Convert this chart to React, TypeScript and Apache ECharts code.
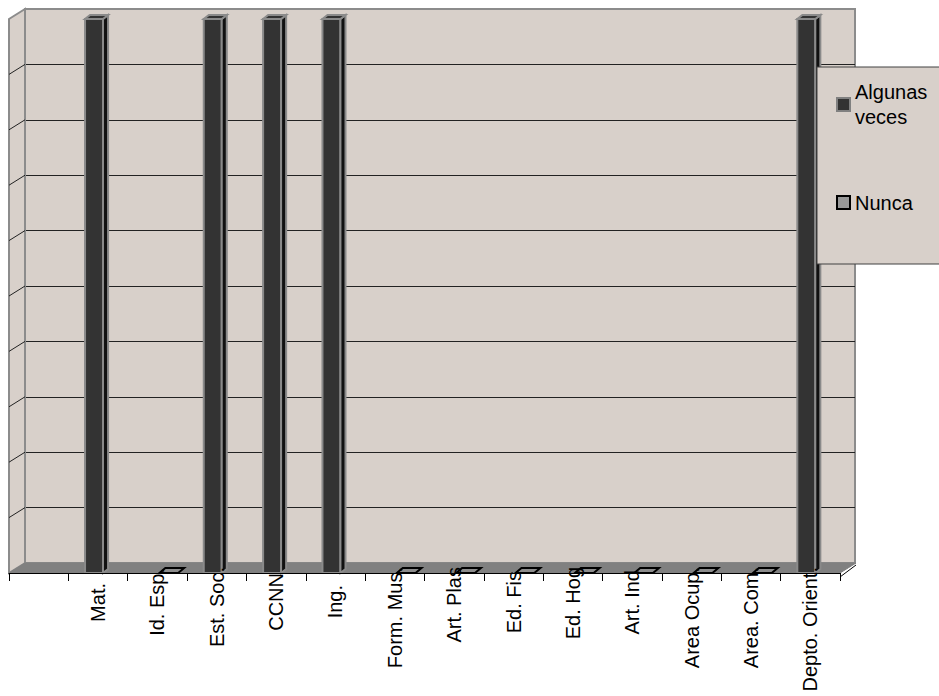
import React, { useEffect, useRef } from "react";
import * as echarts from "echarts";

// ---- data ----
const categories = ["", "Mat.", "Id. Esp.", "Est. Soc.", "CCNN", "Ing.", "Form. Mus.", "Art. Plas", "Ed. Fis", "Ed. Hog", "Art. Ind", "Area Ocup.", "Area. Com.", "Depto. Orient."];
const algunasVeces: (number | null)[] = [null, 100, null, 100, 100, 100, null, null, null, null, null, null, null, 100];
const nunca: (number | null)[] = [null, null, 0, null, null, null, 0, 0, 0, 0, 0, 0, 0, null];
const seriesNames = ["Algunas veces", "Nunca"];
const valueMax = 100;
const valueStep = 10;

// ---- style ----
const FONT = "'Liberation Sans', Arial, sans-serif";
const WALL = "#d8d0ca";
const FLOOR = "#808080";
const EDGE = "#8c8c8c";
const DX = 16;
const DY = 10;

function measure(text: string, size: number): number {
  const ctx = document.createElement("canvas").getContext("2d");
  if (!ctx) return text.length * size * 0.5;
  ctx.font = `${size}px ${FONT}`;
  return ctx.measureText(text).width;
}

function toPoints(values: (number | null)[]) {
  const out: number[][] = [];
  values.forEach((v, i) => {
    if (v !== null && v !== undefined) out.push([i, v]);
  });
  return out;
}

function bar3d(fill: string, side: string, stroke: string, lw: number, x0f: number, x1f: number, dxf: number, dy: number) {
  return (params: any, api: any) => {
    const v = api.value(1);
    if (v === null || v === undefined || isNaN(v)) return null;
    const i = api.value(0);
    const top = api.coord([i, v]);
    const base = api.coord([i, 0]);
    const band = api.size([1, 0])[0];
    const xl = top[0] + band * x0f;
    const xr = top[0] + band * x1f;
    const dx = band * dxf;
    const yt = top[1];
    const yb = base[1];
    const children: any[] = [];
    if (yb - yt > 0.5) {
      children.push({ type: "rect", shape: { x: xl, y: yt, width: xr - xl, height: yb - yt }, style: { fill, stroke, lineWidth: lw } });
      children.push({ type: "polygon", shape: { points: [[xr, yt], [xr + dx, yt - dy], [xr + dx, yb - dy], [xr, yb]] }, style: { fill: side, stroke, lineWidth: lw } });
    }
    children.push({ type: "polygon", shape: { points: [[xl, yt], [xr, yt], [xr + dx, yt - dy], [xl + dx, yt - dy]] }, style: { fill, stroke, lineWidth: lw } });
    return { type: "group", children };
  };
}

function frame(params: any, api: any) {
  const cs = params.coordSys;
  const x = cs.x, y = cs.y, w = cs.width, h = cs.height;
  const b = y + h;
  const children: any[] = [];
  children.push({ type: "polygon", shape: { points: [[x, y], [x + DX, y - DY], [x + DX, b - DY], [x, b]] }, style: { fill: WALL, stroke: EDGE, lineWidth: 2 } });
  for (let v = valueStep; v < valueMax; v += valueStep) {
    const yv = api.coord([0, v])[1];
    children.push({ type: "line", shape: { x1: x, y1: yv, x2: x + DX, y2: yv - DY }, style: { stroke: "#222", lineWidth: 1 } });
  }
  children.push({ type: "polygon", shape: { points: [[x, b], [x + DX, b - DY], [x + w + DX, b - DY], [x + w, b]] }, style: { fill: FLOOR, stroke: FLOOR, lineWidth: 1 } });
  children.push({ type: "line", shape: { x1: x + w, y1: b + 4, x2: x + w + DX, y2: b - DY + 2 }, style: { stroke: "#000", lineWidth: 1 } });
  return { type: "group", children };
}

export default function App() {
  const ref = useRef<HTMLDivElement>(null);
  useEffect(() => {
    if (!ref.current) return;
    const chart = echarts.init(ref.current, undefined, { renderer: "svg" });
    const labelItems = categories.map((c) => {
      const w = measure(c, 20);
      const pad = Math.max(0, Math.round(35 - w / 2));
      return { value: c, textStyle: { padding: [0, pad, 0, 0] } };
    });
    chart.setOption({
      animation: false,
      backgroundColor: "#ffffff",
      grid: [
        { left: 9, top: 19, width: 831, height: 554 },
        { left: 25, top: 9, width: 830, height: 554, show: true, backgroundColor: WALL, borderColor: EDGE, borderWidth: 2 },
      ],
      xAxis: [
        {
          gridIndex: 0,
          type: "category",
          data: labelItems,
          offset: 4,
          zlevel: 1,
          z: 10,
          axisLine: { show: true, lineStyle: { color: "#000", width: 1 } },
          axisTick: { show: true, length: 8, lineStyle: { color: "#000", width: 1 } },
          axisLabel: { interval: 0, rotate: 90, margin: -10, fontSize: 20, fontFamily: FONT, color: "#000" },
          splitLine: { show: false },
        },
        { gridIndex: 1, type: "category", data: categories, show: false },
      ],
      yAxis: [
        { gridIndex: 0, type: "value", min: 0, max: valueMax, interval: valueStep, show: false },
        {
          gridIndex: 1,
          type: "value",
          min: 0,
          max: valueMax,
          interval: valueStep,
          axisLine: { show: false },
          axisTick: { show: false },
          axisLabel: { show: false },
          splitLine: { show: true, showMinLine: false, showMaxLine: false, lineStyle: { color: "#222", width: 1 } },
        },
      ],
      legend: {
        orient: "vertical",
        left: 817,
        top: 67,
        padding: [0, 40, 49, 19],
        itemGap: 48,
        itemWidth: 13,
        itemHeight: 13,
        selectedMode: false,
        backgroundColor: WALL,
        borderColor: "#404040",
        borderWidth: 1,
        zlevel: 2,
        z: 20,
        textStyle: { fontFamily: FONT, fontSize: 20, color: "#000", lineHeight: 25 },
        formatter: (n: string) => (n === seriesNames[0] ? n.replace(" ", "\n") : n),
        data: [
          { name: seriesNames[0], icon: "rect", itemStyle: { color: "#333333", borderColor: "#808080", borderWidth: 2 }, textStyle: { padding: [25, 0, 0, 0] } },
          { name: seriesNames[1], icon: "rect", itemStyle: { color: "#999999", borderColor: "#000000", borderWidth: 2 } },
        ],
      },
      series: [
        { type: "custom", renderItem: frame, data: [[0, 0]], xAxisIndex: 0, yAxisIndex: 0, z: 1, silent: true, clip: false },
        {
          name: seriesNames[0],
          type: "custom",
          renderItem: bar3d("#333333", "#111111", "#8a8a8a", 2, -0.219, 0.084, 0.085, 4),
          data: toPoints(algunasVeces),
          encode: { x: 0, y: 1 },
          xAxisIndex: 0,
          yAxisIndex: 0,
          z: 3,
          clip: false,
          itemStyle: { color: "#333333" },
        },
        {
          name: seriesNames[1],
          type: "custom",
          renderItem: bar3d("#8c8c8c", "#666666", "#000000", 2, 0.034, 0.35, 0.1, 5),
          data: toPoints(nunca),
          encode: { x: 0, y: 1 },
          xAxisIndex: 0,
          yAxisIndex: 0,
          z: 3,
          clip: false,
          itemStyle: { color: "#999999" },
        },
      ],
    });
    return () => chart.dispose();
  }, []);
  return <div ref={ref} style={{ position: "absolute", left: 0, top: 0, width: 939, height: 696 }} />;
}
